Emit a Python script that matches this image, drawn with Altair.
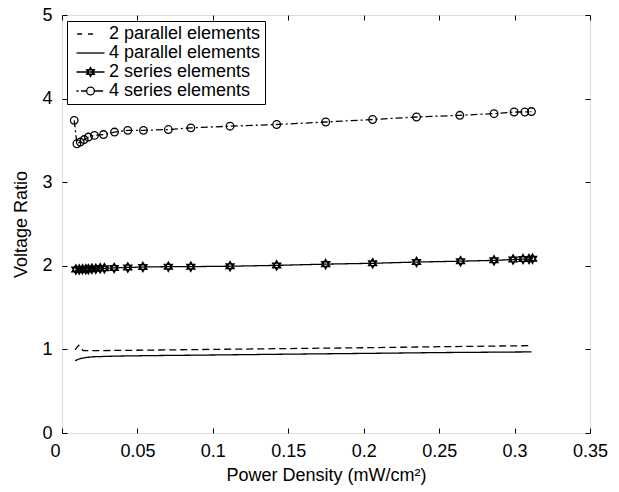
import altair as alt
import pandas as pd

# ---------------- data ----------------
SERIES = ["2 parallel elements", "4 parallel elements",
          "2 series elements", "4 series elements"]

par2_x = [0.0087, 0.0110, 0.0140, 0.0200, 0.0500, 0.1000, 0.1500, 0.2000, 0.2500, 0.3112]
par2_y = [0.995, 1.050, 0.985, 0.985, 0.990, 1.000, 1.010, 1.020, 1.032, 1.045]

par4_x = [0.0087, 0.0120, 0.0160, 0.0210, 0.0360, 0.0600, 0.1000, 0.1500, 0.2000, 0.2500, 0.3112]
par4_y = [0.865, 0.890, 0.903, 0.912, 0.920, 0.926, 0.933, 0.943, 0.952, 0.962, 0.970]

ser2_x = [0.0092, 0.0114, 0.0136, 0.0158, 0.0175, 0.0198, 0.0224, 0.0253, 0.0281,
          0.0346, 0.0436, 0.0536, 0.0705, 0.0854, 0.1114, 0.1423, 0.1748, 0.2059,
          0.2350, 0.2642, 0.2864, 0.2990, 0.3056, 0.3096, 0.3119]
ser2_y = [1.955, 1.955, 1.960, 1.960, 1.960, 1.965, 1.965, 1.970, 1.970,
          1.975, 1.980, 1.985, 1.990, 1.990, 1.995, 2.005, 2.020, 2.030,
          2.045, 2.055, 2.065, 2.075, 2.080, 2.080, 2.085]

ser4_x = [0.0081, 0.0099, 0.0121, 0.0147, 0.0175, 0.0215, 0.0275, 0.0348, 0.0436,
          0.0540, 0.0705, 0.0854, 0.1114, 0.1423, 0.1748, 0.2059, 0.2350, 0.2637,
          0.2864, 0.2997, 0.3068, 0.3112]
ser4_y = [3.74, 3.46, 3.48, 3.51, 3.54, 3.56, 3.57, 3.60, 3.62,
          3.62, 3.63, 3.65, 3.67, 3.69, 3.72, 3.75, 3.78, 3.80,
          3.82, 3.84, 3.84, 3.845]

x_ticks = [0, 0.05, 0.1, 0.15, 0.2, 0.25, 0.3, 0.35]
y_ticks = [0, 1, 2, 3, 4, 5]

# ---------------- tables ----------------
def frame(name, xs, ys):
    return pd.DataFrame({"series": name, "x": xs, "y": ys})

df_par2 = frame(SERIES[0], par2_x, par2_y)
df_par4 = frame(SERIES[1], par4_x, par4_y)
df_ser2 = frame(SERIES[2], ser2_x, ser2_y)
df_ser4 = frame(SERIES[3], ser4_x, ser4_y)
df_legend = pd.DataFrame({"series": SERIES})

# ---------------- styles ----------------
FONT = "Liberation Sans"
FS = 18
HEX = ("M0,-1L0.866,0.5L-0.866,0.5Z"
       "M0,1L0.866,-0.5L-0.866,-0.5Z")
LEG_PATHS = [
    "M-0.4,0H0.3M1.15,0H1.85",
    "M-0.5,0H3.5",
    "M-0.5,0H3.5M1.5,-0.64L2.054,0.32L0.946,0.32ZM1.5,0.64L2.054,-0.32L0.946,-0.32Z",
    "M-0.5,0H-0.2M0.15,0H0.95M2.05,0H3.3"
    "M0.95,0A0.55,0.55 0 1,0 2.05,0A0.55,0.55 0 1,0 0.95,0",
]

xscale = alt.Scale(domain=[0, 0.35], nice=False, zero=False)
yscale = alt.Scale(domain=[0, 5], nice=False, zero=False)

common = dict(domain=False, grid=False, ticks=True, tickColor="black", tickSize=5,
              tickWidth=1, offset=-5, labelColor="black", labelFont=FONT,
              labelFontSize=FS, titleFont=FONT, titleFontSize=FS,
              titleFontWeight="normal", titleColor="black", labelFlush=False,
              labelOverlap=False)

x_bottom = alt.Axis(orient="bottom", values=x_ticks, format=".2~f", labelPadding=9,
                    labelOffset={"condition": {"test": "datum.value === 0", "value": -7},
                                 "value": 0},
                    title="Power Density (mW/cm²)", titlePadding=6, **common)
y_left = alt.Axis(orient="left", values=y_ticks, format="d", labelPadding=10,
                  title="Voltage Ratio", titlePadding=11, **common)
x_top = alt.Axis(orient="top", values=x_ticks, labels=False, title=None, **common)
y_right = alt.Axis(orient="right", values=y_ticks, labels=False, title=None, **common)


def line_layer(df, dash, xaxis=None, yaxis=None):
    return alt.Chart(df).mark_line(color="black", strokeWidth=1.3, strokeDash=dash).encode(
        x=alt.X("x:Q", scale=xscale, axis=xaxis),
        y=alt.Y("y:Q", scale=yscale, axis=yaxis),
    )


line_par2 = line_layer(df_par2, [7, 4], x_bottom, y_left)
line_par4 = line_layer(df_par4, [1, 0])
line_ser2 = line_layer(df_ser2, [1, 0])
line_ser4 = line_layer(df_ser4, [7, 3, 2, 3])

stars = alt.Chart(df_ser2).mark_point(
    shape=HEX, size=85, filled=False, color="black", strokeWidth=1.4, opacity=1
).encode(
    x=alt.X("x:Q", scale=xscale, axis=None),
    y=alt.Y("y:Q", scale=yscale, axis=None),
)

circles = alt.Chart(df_ser4).mark_point(
    shape="circle", size=58, filled=False, color="black", strokeWidth=1.3, opacity=1
).encode(
    x=alt.X("x:Q", scale=xscale, axis=x_top),
    y=alt.Y("y:Q", scale=yscale, axis=y_right),
)

legend_layer = alt.Chart(df_legend).mark_point(
    filled=False, color="black", strokeWidth=1.3, opacity=0
).encode(
    shape=alt.Shape(
        "series:N",
        scale=alt.Scale(domain=SERIES, range=LEG_PATHS),
        legend=alt.Legend(
            title=None, orient="none", legendX=5, legendY=6,
            symbolSize=196, symbolStrokeWidth=1.3, symbolStrokeColor="black",
            symbolFillColor="transparent", symbolOpacity=1,
            labelFont=FONT, labelFontSize=FS, labelColor="black",
            labelOffset=20, labelLimit=400, padding=4, rowPadding=1,
            strokeColor="black", fillColor="white",
        ),
    ),
)

chart = alt.layer(line_par2, line_par4, line_ser2, line_ser4, stars, circles,
                  legend_layer).resolve_axis(
    x="independent", y="independent"
).properties(
    width=528, height=418,
    padding={"left": 62, "top": 15, "right": 29, "bottom": 59},
    autosize=alt.AutoSizeParams(type="none"),
    background="white",
).configure_view(
    stroke="black", strokeWidth=1
).configure(font=FONT)

chart.save("out.html", embed_options={"renderer": "svg", "actions": False})
